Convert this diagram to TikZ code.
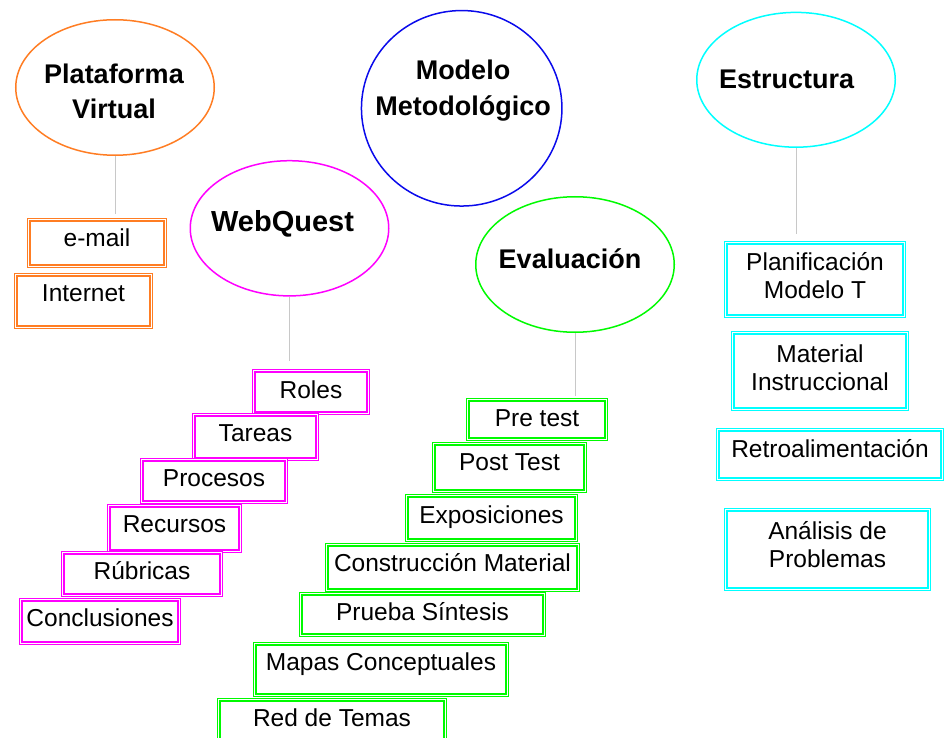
\documentclass[tikz,border=0pt]{standalone}
\usepackage{fontspec}
\setmainfont{Liberation Sans}
\usetikzlibrary{shapes.geometric}
\definecolor{orng}{RGB}{255,125,35}
\definecolor{mag}{RGB}{255,0,255}
\definecolor{grn}{RGB}{0,250,0}
\definecolor{cyn}{RGB}{0,255,255}
\definecolor{blu}{RGB}{10,10,235}
\definecolor{lgray}{RGB}{200,200,200}
\tikzset{
  ell/.style={draw, ellipse, line width=1.5pt, inner sep=0pt},
  ttl/.style={font=\fontsize{27}{35.5}\selectfont\bfseries, align=center, inner sep=0pt},
  bx/.style={draw, double=white, line width=1.2pt, double distance=1.4pt, inner xsep=0pt, inner ysep=0pt, font=\fontsize{24.5}{28}\selectfont, anchor=base},
  mbx/.style={draw, double=white, line width=1.2pt, double distance=1.4pt, inner sep=0pt, font=\fontsize{24.5}{28}\selectfont, align=center},
  conn/.style={draw=lgray, line width=1pt},
}
\begin{document}
\begin{tikzpicture}[x=1pt,y=-1pt]
\useasboundingbox (0,0) rectangle (950,738);
\clip (0,0) rectangle (950,738);
% ellipses
\node[ell, draw=orng, minimum width=198.5pt, minimum height=135.5pt] (pv) at (115,87.5) {};
\node[ell, draw=blu, minimum width=200.5pt, minimum height=195.5pt] (mm) at (461.7,108.3) {};
\node[ell, draw=mag, minimum width=198.5pt, minimum height=135.2pt] (wq) at (289.5,228.3) {};
\node[ell, draw=grn, minimum width=198.5pt, minimum height=135.5pt] (ev) at (575,264.5) {};
\node[ell, draw=cyn, minimum width=198.5pt, minimum height=134.8pt] (es) at (796,79.8) {};
% titles
\node[ttl] (pvt) at (114,91.4) {Plataforma\\Virtual};
\node[ttl] (mmt) at (463,90.7) {Modelo\\Metodológico};
\node[ttl, anchor=base, font=\fontsize{29}{35.5}\selectfont\bfseries] (wqt) at (282.5,231.7) {WebQuest};
\node[ttl, anchor=base] (evt) at (570,268.5) {Evaluación};
\node[ttl, anchor=base] (est) at (786.7,88.3) {Estructura};
% orange boxes
\node[bx, draw=orng, minimum width=136.5pt, text height=27.05pt, text depth=19.45pt] (email) at (97,246.8) {e-mail};
\node[bx, draw=orng, minimum width=135.5pt, text height=27.05pt, text depth=25.45pt] (inet) at (83.5,301.8) {Internet};
% magenta boxes
\node[bx, draw=mag, minimum width=114.5pt, text height=28.05pt, text depth=14.45pt] (roles) at (311,398.8) {Roles};
\node[bx, draw=mag, minimum width=123.5pt, text height=27.05pt, text depth=17.45pt] (tareas) at (255.5,441.8) {Tareas};
\node[bx, draw=mag, minimum width=144.5pt, text height=27.05pt, text depth=15.45pt] (procesos) at (214,486.8) {Procesos};
\node[bx, draw=mag, minimum width=131.5pt, text height=27.05pt, text depth=18.45pt] (recursos) at (174.5,532.8) {Recursos};
\node[bx, draw=mag, minimum width=158.5pt, text height=27.05pt, text depth=15.45pt] (rubricas) at (142,579.8) {Rúbricas};
\node[bx, draw=mag, minimum width=158.5pt, text height=27.05pt, text depth=16.45pt] (concl) at (100,626.8) {Conclusiones};
% green boxes
\node[bx, draw=grn, minimum width=138.5pt, text height=27.05pt, text depth=12.45pt] (pre) at (537,426.8) {Pre test};
\node[bx, draw=grn, minimum width=151.5pt, text height=27.05pt, text depth=20.45pt] (post) at (509.5,470.8) {Post Test};
\node[bx, draw=grn, minimum width=169.5pt, text height=28.05pt, text depth=16.45pt] (expo) at (491.5,523.8) {Exposiciones};
\node[bx, draw=grn, minimum width=251.5pt, text height=27.05pt, text depth=18.45pt] (constr) at (452.5,571.8) {Construcción Material};
\node[bx, draw=grn, minimum width=243.5pt, text height=27.05pt, text depth=14.45pt] (prueba) at (422.5,620.8) {Prueba Síntesis};
\node[bx, draw=grn, minimum width=252.5pt, text height=27.05pt, text depth=24.45pt] (mapas) at (381,670.8) {Mapas Conceptuales};
\node[bx, draw=grn, minimum width=226.5pt, text height=27.05pt, text depth=30pt] (red) at (332,726.8) {Red de Temas};
% cyan boxes
\node[mbx, draw=cyn, minimum width=178.5pt, minimum height=73.5pt] (plan) at (815,279.5) {Planificación\\Modelo T\rule[-8pt]{0pt}{8pt}};
\node[mbx, draw=cyn, minimum width=174.5pt, minimum height=76.5pt] (mat) at (820,371) {Material\\Instruccional\rule[-7pt]{0pt}{7pt}};
\node[bx, draw=cyn, minimum width=224.5pt, text height=28.05pt, text depth=21.45pt] (retro) at (830,457.8) {Retroalimentación};
\node[mbx, draw=cyn, minimum width=203.5pt, minimum height=79.5pt] (anal) at (827.5,549.5) {Análisis de\\Problemas\rule[-11pt]{0pt}{11pt}};
% connectors
\draw[conn, shorten >=4.75pt] (pv.south) -- (pv.south |- email.north);
\draw[conn, shorten >=9pt] (wq.south) -- (wq.south |- roles.north);
\draw[conn, shorten >=3pt] (ev.south) -- (ev.south |- pre.north);
\draw[conn, shorten >=7.75pt] (es.south) -- (es.south |- plan.north);
\end{tikzpicture}
\end{document}
